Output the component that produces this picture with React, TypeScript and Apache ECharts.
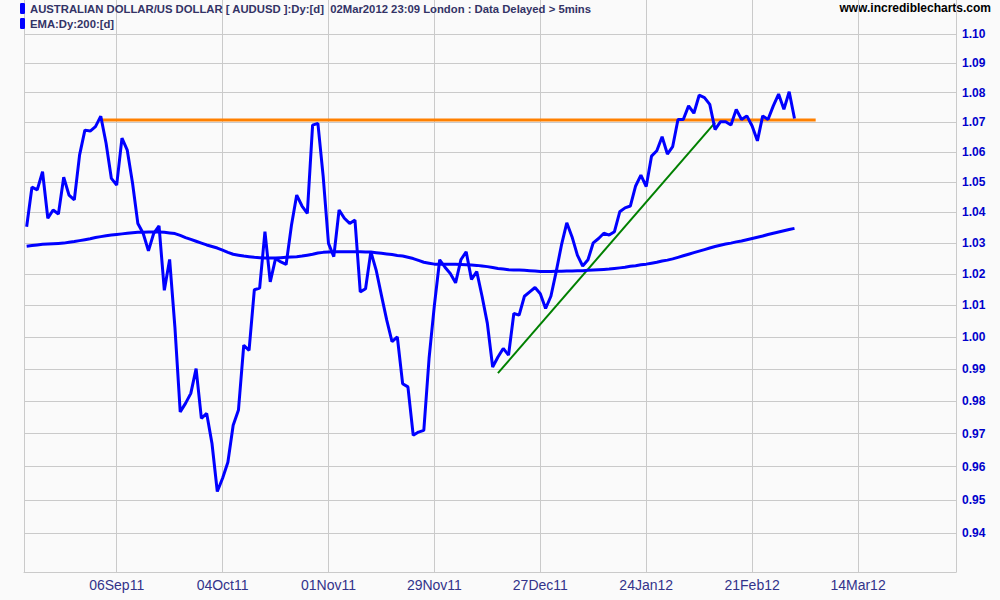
import React, { useEffect, useRef } from 'react';
import * as echarts from 'echarts';

const priceName = 'AUSTRALIAN DOLLAR/US DOLLAR [ AUDUSD ]:Dy:[d]  02Mar2012 23:09 London : Data Delayed > 5mins';
const emaName = 'EMA:Dy:200:[d]';
const siteLabel = 'www.incrediblecharts.com';

// trading-day slots on the x axis (data + future space)
const startDate = '2011-08-12';
const slotCount = 176;

const xTickSlots = [17, 37, 57, 77, 97, 117, 137, 157];
const xTickLabels = ['06Sep11', '04Oct11', '01Nov11', '29Nov11', '27Dec11', '24Jan12', '21Feb12', '14Mar12'];

const yTicks = [0.94, 0.95, 0.96, 0.97, 0.98, 0.99, 1.0, 1.01, 1.02, 1.03, 1.04, 1.05, 1.06, 1.07, 1.08, 1.09, 1.1];
const yMin = 0.92866;
const yMax = 1.11195;

const price = [
  1.0353, 1.0483, 1.0474, 1.0534, 1.0381, 1.0408, 1.0395, 1.0516, 1.0457, 1.0441,
  1.059, 1.0673, 1.067, 1.0685, 1.072, 1.0629, 1.0512, 1.049, 1.0646, 1.0606,
  1.0496, 1.0364, 1.0332, 1.0275, 1.0332, 1.0356, 1.0148, 1.0247, 1.003, 0.9767,
  0.9793, 0.9824, 0.9901, 0.9747, 0.9762, 0.967, 0.9525, 0.9565, 0.9613, 0.9726,
  0.9773, 0.9974, 0.9958, 1.015, 1.0155, 1.0337, 1.0175, 1.025, 1.0239, 1.0231,
  1.0357, 1.0457, 1.0421, 1.0397, 1.069, 1.0696, 1.0518, 1.0299, 1.0256, 1.0408,
  1.0381, 1.0364, 1.0375, 1.0143, 1.0153, 1.0272, 1.0213, 1.0132, 1.0053, 0.9985,
  1.0, 0.9854, 0.9844, 0.9695, 0.9705, 0.971, 0.9934, 1.0101, 1.0246, 1.0222,
  1.0202, 1.0172, 1.0246, 1.0272, 1.0183, 1.0208, 1.0129, 1.0043, 0.9906, 0.9937,
  0.9964, 0.9943, 1.0074, 1.0069, 1.0129, 1.0143, 1.0157, 1.0137, 1.009, 1.0129,
  1.0208, 1.0294, 1.0366, 1.032, 1.0261, 1.0226, 1.0246, 1.0301, 1.0315, 1.0332,
  1.0326, 1.0337, 1.0402, 1.0415, 1.0421, 1.0487, 1.0523, 1.0485, 1.0586, 1.0604,
  1.0651, 1.0593, 1.0618, 1.0709, 1.0709, 1.0755, 1.073, 1.0791, 1.0783, 1.076,
  1.0675, 1.0701, 1.0701, 1.069, 1.0743, 1.0709, 1.0721, 1.0687, 1.0637, 1.0721,
  1.0709, 1.0755, 1.0795, 1.0743, 1.0803, 1.0712,
];

const ema = [
  1.029, 1.0292, 1.0294, 1.0296, 1.0297, 1.0298, 1.0299, 1.03, 1.0303, 1.0305,
  1.0308, 1.0311, 1.0314, 1.0318, 1.0321, 1.0324, 1.0326, 1.0328, 1.033, 1.0332,
  1.0334, 1.0335, 1.0335, 1.0336, 1.0336, 1.0336, 1.0335, 1.0333, 1.0331, 1.0325,
  1.0318, 1.0312, 1.0306, 1.03, 1.0294, 1.0289, 1.0284, 1.0277, 1.027, 1.0264,
  1.0261, 1.0258, 1.0256, 1.0254, 1.0253, 1.0252, 1.0252, 1.0252, 1.0253, 1.0254,
  1.0255, 1.0256, 1.0258, 1.0261, 1.0264, 1.0268, 1.027, 1.0271, 1.0272, 1.0272,
  1.0272, 1.0272, 1.0272, 1.0272, 1.0271, 1.0271, 1.0269, 1.0267, 1.0265, 1.0263,
  1.026, 1.0258, 1.0254, 1.025, 1.0244, 1.0238, 1.0235, 1.0232, 1.0232, 1.0232,
  1.0232, 1.0232, 1.0231, 1.023, 1.0229, 1.0228, 1.0226, 1.0224, 1.0221, 1.0218,
  1.0216, 1.0214, 1.0213, 1.0213, 1.0212, 1.0211, 1.021, 1.0208, 1.0208, 1.0208,
  1.0209, 1.0209, 1.021, 1.021, 1.0211, 1.0211, 1.0212, 1.0213, 1.0214, 1.0215,
  1.0216, 1.0218, 1.022, 1.0222, 1.0225, 1.0227, 1.023, 1.0232, 1.0235, 1.0238,
  1.0242, 1.0245, 1.0249, 1.0254, 1.0259, 1.0264, 1.0269, 1.0274, 1.0279, 1.0284,
  1.0289, 1.0293, 1.0297, 1.03, 1.0304, 1.0307, 1.0311, 1.0315, 1.0319, 1.0323,
  1.0328, 1.0332, 1.0336, 1.034, 1.0344, 1.0348,
];

// drawn trend lines: slot index and value of each end
const resistanceX = [14, 149];
const resistanceY = [1.0707, 1.0707];
const supportX = [89, 130];
const supportY = [0.9887, 1.0698];

const MONTHS = ['Jan', 'Feb', 'Mar', 'Apr', 'May', 'Jun', 'Jul', 'Aug', 'Sep', 'Oct', 'Nov', 'Dec'];

function tradingDays(start: string, n: number): string[] {
  const out: string[] = [];
  const d = new Date(start + 'T00:00:00Z');
  while (out.length < n) {
    const wd = d.getUTCDay();
    if (wd !== 0 && wd !== 6) {
      const dd = String(d.getUTCDate()).padStart(2, '0');
      const yy = String(d.getUTCFullYear() % 100).padStart(2, '0');
      out.push(dd + MONTHS[d.getUTCMonth()] + yy);
    }
    d.setUTCDate(d.getUTCDate() + 1);
  }
  return out;
}

export default function App() {
  const ref = useRef<HTMLDivElement>(null);

  useEffect(() => {
    if (!ref.current) return;
    const chart = echarts.init(ref.current, null, { renderer: 'svg' });

    const categories = tradingDays(startDate, slotCount);
    const labelByCat: Record<string, string> = {};
    xTickSlots.forEach((s, k) => {
      labelByCat[categories[s]] = xTickLabels[k];
    });
    const tickSet = new Set(xTickSlots);
    const isTick = (i: number) => tickSet.has(i);

    const gridColor = '#cacaca';
    const font = "'Liberation Sans', Arial, sans-serif";

    chart.setOption({
      animation: false,
      backgroundColor: '#fafafa',
      textStyle: { fontFamily: font },
      legend: {
        data: [priceName, emaName],
        orient: 'vertical',
        left: 20,
        top: 3,
        padding: 0,
        itemWidth: 5,
        itemHeight: 11,
        itemGap: 4,
        icon: 'roundRect',
        selectedMode: false,
        textStyle: { fontSize: 11.3, fontWeight: 'bold', color: '#333366', fontFamily: font },
      },
      grid: { left: 24, right: 44, top: 0, bottom: 28, containLabel: false, outerBoundsMode: 'none' },
      xAxis: {
        type: 'category',
        data: categories,
        boundaryGap: true,
        axisLine: { show: true, lineStyle: { color: gridColor, width: 1 } },
        axisTick: { show: false, alignWithLabel: true, interval: isTick },
        axisLabel: {
          interval: isTick,
          formatter: (v: string) => labelByCat[v] ?? '',
          color: '#33338a',
          fontSize: 14,
          fontFamily: "'Liberation Sans Narrow', 'Arial Narrow', 'Liberation Sans', sans-serif",
          margin: 6,
        },
        splitLine: { show: true, interval: isTick, alignWithLabel: true, lineStyle: { color: gridColor, width: 1 } },
      },
      yAxis: [
        {
          type: 'log',
          logBase: 10,
          min: yMin,
          max: yMax,
          position: 'right',
          axisLine: { show: true, lineStyle: { color: gridColor, width: 1 } },
          axisTick: { show: false, customValues: yTicks },
          axisLabel: {
            customValues: yTicks,
            formatter: (v: number) => v.toFixed(2),
            color: '#0000cc',
            fontWeight: 'bold',
            fontSize: 12,
            fontFamily: font,
            margin: 6,
          },
          splitLine: { show: true, lineStyle: { color: gridColor, width: 1 } },
        },
        {
          type: 'value',
          position: 'left',
          min: 0,
          max: 1,
          axisLine: { show: true, lineStyle: { color: gridColor, width: 1 } },
          axisTick: { show: false },
          axisLabel: { show: false },
          splitLine: { show: false },
        },
      ],
      graphic: [
        {
          type: 'text',
          right: 9,
          top: 2,
          style: { text: siteLabel, fill: '#000', font: "bold 12px 'Liberation Sans', Arial, sans-serif" },
        },
      ],
      series: [
        {
          type: 'line',
          name: 'resistance',
          yAxisIndex: 0,
          data: resistanceX.map((x, k) => [x, resistanceY[k]]),
          showSymbol: false,
          silent: true,
          lineStyle: { color: '#ff8000', width: 3 },
          color: '#ff8000',
        },
        {
          type: 'line',
          name: 'support',
          yAxisIndex: 0,
          data: supportX.map((x, k) => [x, supportY[k]]),
          showSymbol: false,
          silent: true,
          lineStyle: { color: '#008000', width: 2 },
          color: '#008000',
        },
        {
          type: 'line',
          name: emaName,
          yAxisIndex: 0,
          data: ema,
          showSymbol: false,
          silent: true,
          color: '#0000ff',
          lineStyle: { color: '#0000ff', width: 3 },
        },
        {
          type: 'line',
          name: priceName,
          yAxisIndex: 0,
          data: price,
          showSymbol: false,
          silent: true,
          color: '#0000ff',
          lineStyle: { color: '#0000ff', width: 3 },
        },
      ],
    } as any);

    return () => chart.dispose();
  }, []);

  return (
    <div
      ref={ref}
      style={{ position: 'absolute', left: 0, top: 0, width: 1000, height: 600 }}
    />
  );
}
